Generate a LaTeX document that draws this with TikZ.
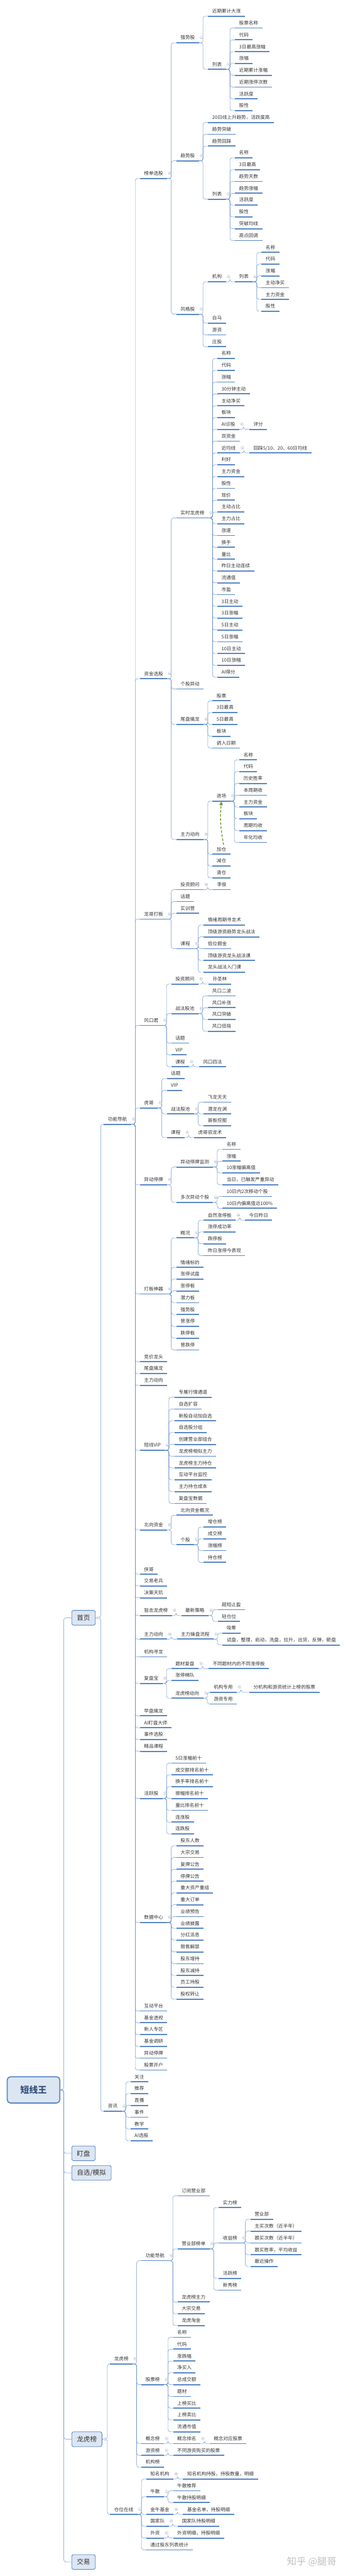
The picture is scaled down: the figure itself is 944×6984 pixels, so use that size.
\documentclass[tikz,border=0pt]{standalone}
\usepackage{fontspec}
\newfontfamily\cjk{Noto Sans CJK SC}
\usepackage{tikz}
\usetikzlibrary{arrows.meta, calc}

\definecolor{ulblue}{RGB}{91,137,198}
\definecolor{lnblue}{RGB}{104,145,200}
\definecolor{foldgray}{RGB}{165,180,202}
\definecolor{bxfill}{RGB}{220,230,242}
\definecolor{rootink}{RGB}{55,82,125}
\definecolor{relgreen}{RGB}{119,147,60}

\pgfdeclarelayer{bg}
\pgfsetlayers{bg,main}

\tikzset{
  topic/.style={anchor=south west, inner xsep=11pt, inner ysep=6.5pt,
    text height=10pt, text depth=2pt, text=black!80,
    font=\cjk\fontsize{12.9}{15}\selectfont,
    append after command={(\tikzlastnode.south west) edge[uline] (\tikzlastnode.south east)}},
  uline/.style={draw=ulblue, line width=3pt},
  foldmark/.style={circle, anchor=center, draw=foldgray, fill=white, line width=0.6pt,
    minimum size=8pt, inner sep=0pt,
    path picture={\draw[foldgray, line width=0.6pt]
      ([xshift=-2pt]path picture bounding box.center) -- ([xshift=2pt]path picture bounding box.center);}},
  fold/.style={append after command={([xshift=7pt,yshift=14pt]\tikzlastnode.south east) node[foldmark] {}}},
  foldbox/.style={append after command={([xshift=7pt]\tikzlastnode.east) node[foldmark] {}}},
  box/.style={anchor=west, draw=ulblue, fill=bxfill, line width=1.5pt, rounded corners=5pt,
    minimum height=40pt, inner xsep=14pt, text=black!80, font=\cjk\fontsize{18}{20}\selectfont},
  rootbox/.style={box, line width=3pt, rounded corners=9pt, minimum width=143pt, minimum height=71pt,
    text=rootink, font=\cjk\fontsize{24}{26}\selectfont\bfseries},
  conn/.style={draw=lnblue, line width=0.8pt, rounded corners=6pt},
  branch/.style={to path={-- ++(#1,0pt) |- (\tikztotarget)}},
  branch/.default=11pt,
  relarrow/.style={draw=relgreen, line width=2.2pt, dash pattern=on 7pt off 4pt,
    -{Triangle[length=11pt, width=9pt]}},
}

\begin{document}
\begin{tikzpicture}[x=1pt, y=-1pt]
  \useasboundingbox (0,0) rectangle (944,6984);

  % Root and main topics
  \node[rootbox] (root) at (18,5666) {短线王};
  \node[box, foldbox] (home) at (194,4386) {首页};
  \node[box] (watch) at (194,5838) {盯盘};
  \node[box] (self) at (194,5891) {自选/模拟};
  \node[box, foldbox] (lhb) at (194,6613) {龙虎榜};
  \node[box] (trade) at (194,6946) {交易};

  % 首页
  \node[topic, fold] (nav) at (282,3048) {功能导航};
  \node[topic, fold] (news) at (282,5724) {资讯};
  \foreach \lbl [count=\idx] in {关注,推荐,直播,事件,教学,AI选股}
    \node[topic] (news\idx) at (354,{5644+32*(\idx-1)}) {\lbl};

  % 榜单选股
  \node[topic, fold] (bd) at (380,484) {榜单选股};
  \node[topic, fold] (qs) at (479,116) {强势股};
  \node[topic] (qs0) at (565,44) {近期累计大涨};
  \node[topic, fold] (qsl) at (565,188) {列表};
  \foreach \lbl [count=\idx] in {股票名称,代码,3日最高涨幅,涨幅,近期累计涨幅,近期涨停次数,活跃度,股性}
    \node[topic] (qsl\idx) at (638,{76+32*(\idx-1)}) {\lbl};
  \node[topic, fold] (qt) at (479,436) {趋势股};
  \node[topic] (qt1) at (565,332) {20日线上升趋势，活跃度高};
  \node[topic] (qt2) at (565,364) {趋势突破};
  \node[topic] (qt3) at (565,396) {趋势回踩};
  \node[topic, fold] (qtl) at (565,540) {列表};
  \foreach \lbl [count=\idx] in {名称,3日最高,趋势天数,趋势涨幅,活跃度,股性,突破均线,高点回调}
    \node[topic] (qtl\idx) at (638,{428+32*(\idx-1)}) {\lbl};
  \node[topic, fold] (fg) at (479,852) {风格股};
  \node[topic, fold] (fgj) at (565,764) {机构};
  \node[topic, fold] (fgl) at (638,764) {列表};
  \foreach \lbl [count=\idx] in {名称,代码,涨幅,主动净买,主力资金,股性}
    \node[topic] (fgl\idx) at (710,{684+32*(\idx-1)}) {\lbl};
  \node[topic] (fg2) at (565,876) {白马};
  \node[topic] (fg3) at (565,908) {游资};
  \node[topic] (fg4) at (565,940) {庄股};

  % 资金选股
  \node[topic, fold] (zj) at (380,1840) {资金选股};
  \node[topic, fold] (ss) at (479,1404) {实时龙虎榜};
  \foreach \lbl [count=\idx] in {名称,代码,涨幅,30分钟主动,主动净买,板块,AI诊股,双资金,近均线,利好,主力资金,股性,现价,主动占比,主力占比,涨速,换手,量比,昨日主动连续,流通值,市盈,3日主动,3日涨幅,5日主动,5日涨幅,10日主动,10日涨幅,AI得分}
    \node[topic] (ss\idx) at (590,{972+32*(\idx-1)}) {\lbl};
  \node[foldmark] (ss7f) at ([xshift=7pt,yshift=14pt]ss7.south east) {};
  \node[foldmark] (ss9f) at ([xshift=7pt,yshift=14pt]ss9.south east) {};
  \node[topic] (ss7a) at (677,1164) {评分};
  \node[topic] (ss9a) at (677,1228) {回踩5/10、20、60日均线};
  \node[topic] (gy) at (479,1868) {个股异动};
  \node[topic, fold] (wp) at (479,1964) {尾盘擒龙};
  \foreach \lbl [count=\idx] in {股票,3日最高,5日最高,板块,调入日期}
    \node[topic] (wp\idx) at (577,{1900+32*(\idx-1)}) {\lbl};
  \node[topic, fold] (zd) at (479,2276) {主力动向};
  \node[topic, fold] (jin) at (577,2172) {进场};
  \foreach \lbl [count=\idx] in {名称,代码,历史胜率,本周期收,主力资金,板块,周期均收,年化均收}
    \node[topic] (jin\idx) at (650,{2060+32*(\idx-1)}) {\lbl};
  \node[topic] (jc) at (577,2316) {加仓};
  \node[topic] (jian) at (577,2348) {减仓};
  \node[topic] (qc) at (577,2380) {清仓};
  \draw[relarrow] ([xshift=6pt]jc.north) to[bend left=8] (jin.south);

  % 龙哥打板
  \node[topic, fold] (lg) at (380,2492) {龙哥打板};
  \node[topic, fold] (lgt) at (479,2412) {投资顾问};
  \node[topic] (lgt1) at (578,2412) {李俊};
  \node[topic] (lg2) at (479,2444) {话题};
  \node[topic] (lg3) at (479,2476) {实训营};
  \node[topic, fold] (lgk) at (479,2572) {课程};
  \foreach \lbl [count=\idx] in {情绪周期寻龙术,顶级游资趋势龙头战法,低位掘金,顶级游资龙头战法课,龙头战法入门课}
    \node[topic] (lgk\idx) at (553,{2508+32*(\idx-1)}) {\lbl};

  % 风口君
  \node[topic, fold] (fk) at (380,2780) {风口君};
  \node[topic, fold] (fkt) at (465,2668) {投资顾问};
  \node[topic] (fkt1) at (566,2668) {孙圣林};
  \node[topic, fold] (fkz) at (465,2748) {战法股池};
  \foreach \lbl [count=\idx] in {风口二波,风口补涨,风口突破,风口低吸}
    \node[topic] (fkz\idx) at (565,{2700+32*(\idx-1)}) {\lbl};
  \node[topic] (fk2) at (465,2828) {话题};
  \node[topic] (fk3) at (465,2860) {VIP};
  \node[topic, fold] (fkk) at (465,2892) {课程};
  \node[topic] (fkk1) at (540,2892) {风口四法};

  % 虎哥
  \node[topic, fold] (hg) at (380,3004) {虎哥};
  \node[topic] (hg1) at (453,2924) {话题};
  \node[topic] (hg2) at (453,2956) {VIP};
  \node[topic, fold] (hgz) at (453,3020) {战法股池};
  \foreach \lbl [count=\idx] in {飞龙天天,潜龙在渊,首板挖掘}
    \node[topic] (hgz\idx) at (553,{2988+32*(\idx-1)}) {\lbl};
  \node[topic, fold] (hgk) at (453,3084) {课程};
  \node[topic] (hgk1) at (527,3084) {虎哥驭龙术};

  % 异动停牌
  \node[topic, fold] (yd) at (380,3212) {异动停牌};
  \node[topic, fold] (ydj) at (479,3164) {异动停牌监测};
  \foreach \lbl [count=\idx] in {名称,涨幅,10涨幅偏离值,当日，已触发严重异动}
    \node[topic] (ydj\idx) at (604,{3116+32*(\idx-1)}) {\lbl};
  \node[topic, fold] (ydd) at (479,3260) {多次异动个股};
  \foreach \lbl [count=\idx] in {10日内2次移动个股,10日内偏离值近100\%}
    \node[topic] (ydd\idx) at (604,{3244+32*(\idx-1)}) {\lbl};

  % 打板神器
  \node[topic, fold] (db) at (380,3508) {打板神器};
  \node[topic, fold] (dbg) at (479,3356) {概况};
  \node[topic, fold] (dbg1) at (553,3308) {自然涨停板};
  \node[topic] (dbg1a) at (665,3308) {今日昨日};
  \node[topic] (dbg2) at (553,3340) {涨停成功率};
  \node[topic] (dbg3) at (553,3372) {跌停板};
  \node[topic] (dbg4) at (553,3404) {昨日涨停今表现};
  \foreach \lbl [count=\idx] in {情绪标的,涨停试盘,涨停板,潜力板,强势股,曾涨停,跌停板,曾跌停}
    \node[topic] (db\idx) at (479,{3436+32*(\idx-1)}) {\lbl};

  % 短线VIP
  \node[topic, fold] (vip) at (380,3932) {短线VIP};
  \foreach \lbl [count=\idx] in {专属行情通道,自选扩容,新股自动加自选,自选股分组,创建营业部组合,龙虎榜相似主力,龙虎榜主力持仓,互动平台监控,主力持仓成本,复盘宝数据}
    \node[topic] (vip\idx) at (474,{3788+32*(\idx-1)}) {\lbl};

  % 北向资金
  \node[topic, fold] (bx) at (380,4148) {北向资金};
  \node[topic] (bx1) at (479,4108) {北向资金概况};
  \node[topic, fold] (bxg) at (479,4188) {个股};
  \foreach \lbl [count=\idx] in {增仓榜,成交榜,涨幅榜,持仓榜}
    \node[topic] (bxg\idx) at (553,{4140+32*(\idx-1)}) {\lbl};

  % 狙击龙虎榜, 主力动向
  \node[topic, fold] (jj) at (380,4380) {狙击龙虎榜};
  \node[topic, fold] (jjc) at (492,4380) {最新策略};
  \node[topic] (jjc1) at (591,4364) {超短止盈};
  \node[topic] (jjc2) at (591,4396) {轻仓位};
  \node[topic, fold] (zl) at (380,4444) {主力动向};
  \node[topic, fold] (zlc) at (480,4444) {主力操盘流程};
  \node[topic] (zlc1) at (604,4428) {吸筹};
  \node[topic] (zlc2) at (604,4460) {试盘，整理，启动，洗盘，拉升，出货，反弹，砸盘};

  % 复盘宝
  \node[topic, fold] (fp) at (380,4564) {复盘宝};
  \node[topic, fold] (fpt) at (465,4524) {题材复盘};
  \node[topic] (fpt1) at (566,4524) {不同题材内的不同涨停板};
  \node[topic] (fp2) at (465,4556) {涨停梯队};
  \node[topic, fold] (fpl) at (465,4604) {龙虎榜动向};
  \node[topic, fold] (fpl1) at (569,4588) {机构专用};
  \node[topic] (fpl1a) at (677,4588) {分机构和游资统计上榜的股票};
  \node[topic] (fpl2) at (569,4620) {游资专用};

  % 活跃股, 数据中心
  \node[topic, fold] (hy) at (380,4876) {活跃股};
  \foreach \lbl [count=\idx] in {5日涨幅前十,成交额排名前十,换手率排名前十,振幅排名前十,量比排名前十,连涨股,连跌股}
    \node[topic] (hy\idx) at (465,{4780+32*(\idx-1)}) {\lbl};
  \node[topic, fold] (sj) at (380,5212) {数据中心};
  \foreach \lbl [count=\idx] in {股东人数,大宗交易,复牌公告,停牌公告,重大资产重组,重大订单,业绩预告,业绩披露,分红派息,限售解禁,股东增持,股东减持,员工持股,股权转让}
    \node[topic] (sj\idx) at (479,{5004+32*(\idx-1)}) {\lbl};

  % other 功能导航 entries
  \foreach \nm/\yy/\lbl in {n1/3692/竞价龙头, n2/3724/尾盘擒龙, n3/3756/主力动向, n4/4268/侠哥,
      n5/4300/交易老兵, n6/4332/决策天玑, n7/4492/机构寻龙, n8/4652/早盘擒龙, n9/4684/AI盯盘大师,
      n10/4716/事件选股, n11/4748/精品课程, n12/5452/互动平台, n13/5484/基金透视, n14/5516/新人专区,
      n15/5548/基金调研, n16/5580/异动停牌, n17/5612/股票开户}
    \node[topic] (\nm) at (380,\yy) {\lbl};

  % 龙虎榜
  \node[topic, fold] (lhbs) at (299,6409) {龙虎榜};
  \node[topic, fold] (lhn) at (384,6129) {功能导航};
  \node[topic] (lhn1) at (482,5953) {订阅营业部};
  \node[topic, fold] (lhy) at (482,6097) {营业部榜单};
  \node[topic] (lhy1) at (594,5985) {实力榜};
  \node[topic, fold] (lhys) at (594,6081) {收益榜};
  \foreach \lbl [count=\idx] in {营业部,主买次数（近半年）,跟买次数（近半年）,跟买胜率，平均收益,最近操作}
    \node[topic] (lhys\idx) at (680,{6017+32*(\idx-1)}) {\lbl};
  \node[topic] (lhy3) at (594,6177) {活跃榜};
  \node[topic] (lhy4) at (594,6209) {新秀榜};
  \node[topic] (lhn3) at (482,6241) {龙虎榜主力};
  \node[topic] (lhn4) at (482,6273) {大宗交易};
  \node[topic] (lhn5) at (482,6305) {龙虎淘金};
  \node[topic, fold] (gpb) at (384,6465) {股票榜};
  \foreach \lbl [count=\idx] in {名称,代码,涨跌幅,净买入,总成交额,题材,上榜买比,上榜卖比,流通市值}
    \node[topic] (gpb\idx) at (470,{6337+32*(\idx-1)}) {\lbl};
  \node[topic, fold] (gnb) at (384,6625) {概念榜};
  \node[topic, fold] (gnp) at (470,6625) {概念排名};
  \node[topic] (gnp1) at (569,6625) {概念对应股票};
  \node[topic, fold] (yzb) at (384,6657) {游资榜};
  \node[topic] (yzb1) at (470,6657) {不同游资购买的股票};
  \node[topic] (jgb) at (384,6689) {机构榜};

  % 仓位在线
  \node[topic, fold] (cw) at (299,6817) {仓位在线};
  \node[topic, fold] (cw1) at (397,6721) {知名机构};
  \node[topic] (cw1a) at (497,6721) {知名机构持股，持股数量，明细};
  \node[topic, fold] (cw2) at (397,6769) {牛散};
  \node[topic] (cw2a) at (470,6753) {牛散推荐};
  \node[topic] (cw2b) at (470,6785) {牛散持股明细};
  \node[topic, fold] (cw3) at (397,6817) {金牛基金};
  \node[topic] (cw3a) at (497,6817) {基金名单，持股明细};
  \node[topic, fold] (cw4) at (397,6849) {国家队};
  \node[topic] (cw4a) at (483,6849) {国家队持股明细};
  \node[topic, fold] (cw5) at (397,6881) {外资};
  \node[topic] (cw5a) at (470,6881) {外资明细，持股明细};
  \node[topic] (cw6) at (397,6913) {通过股东列表统计};

  \node[font=\cjk\fontsize{26}{28}\selectfont, text=black!25] (mark) at (846,6946) {知乎 @腿哥};

  % Edges
  \begin{pgfonlayer}{bg}
    \foreach \ch in {home,watch,self,lhb,trade}
      \draw[conn] (root.east) to[branch=9pt] (\ch.west);
    \foreach \ch in {nav,news}
      \draw[conn] (home.east) to[branch=14pt] (\ch.south west);
    \foreach \ch in {lhbs,cw}
      \draw[conn] (lhb.east) to[branch=14pt] (\ch.south west);
    \foreach \ch in {bd,zj,lg,fk,hg,yd,db,n1,n2,n3,vip,bx,n4,n5,n6,jj,zl,n7,fp,n8,n9,n10,n11,hy,sj,n12,n13,n14,n15,n16,n17}
      \draw[conn] (nav.south east) to[branch] (\ch.south west);
    \foreach \pa/\cnt in {news/6,qsl/8,qtl/8,fgl/6,ss/28,wp/5,jin/8,lgk/5,fkz/4,hgz/3,ydj/4,ydd/2,db/8,vip/10,bxg/4,hy/7,sj/14,lhys/5,gpb/9}
      \foreach \idx in {1,...,\cnt}
        \draw[conn] (\pa.south east) to[branch] (\pa\idx.south west);
    \foreach \pa/\ch in {bd/qs, bd/qt, bd/fg, qs/qs0, qs/qsl, qt/qt1, qt/qt2, qt/qt3, qt/qtl,
        fg/fgj, fgj/fgl, fg/fg2, fg/fg3, fg/fg4, zj/ss, ss7/ss7a, ss9/ss9a, zj/gy, zj/wp, zj/zd,
        zd/jin, zd/jc, zd/jian, zd/qc, lg/lgt, lgt/lgt1, lg/lg2, lg/lg3, lg/lgk,
        fk/fkt, fkt/fkt1, fk/fkz, fk/fk2, fk/fk3, fk/fkk, fkk/fkk1,
        hg/hg1, hg/hg2, hg/hgz, hg/hgk, hgk/hgk1, yd/ydj, yd/ydd,
        db/dbg, dbg/dbg1, dbg1/dbg1a, dbg/dbg2, dbg/dbg3, dbg/dbg4,
        bx/bx1, bx/bxg, jj/jjc, jjc/jjc1, jjc/jjc2, zl/zlc, zlc/zlc1, zlc/zlc2,
        fp/fpt, fpt/fpt1, fp/fp2, fp/fpl, fpl/fpl1, fpl1/fpl1a, fpl/fpl2,
        lhbs/lhn, lhn/lhn1, lhn/lhy, lhy/lhy1, lhy/lhys, lhy/lhy3, lhy/lhy4, lhn/lhn3, lhn/lhn4, lhn/lhn5,
        lhbs/gpb, lhbs/gnb, gnb/gnp, gnp/gnp1, lhbs/yzb, yzb/yzb1, lhbs/jgb,
        cw/cw1, cw1/cw1a, cw/cw2, cw2/cw2a, cw2/cw2b, cw/cw3, cw3/cw3a, cw/cw4, cw4/cw4a, cw/cw5, cw5/cw5a, cw/cw6}
      \draw[conn] (\pa.south east) to[branch] (\ch.south west);
  \end{pgfonlayer}

\end{tikzpicture}
\end{document}
